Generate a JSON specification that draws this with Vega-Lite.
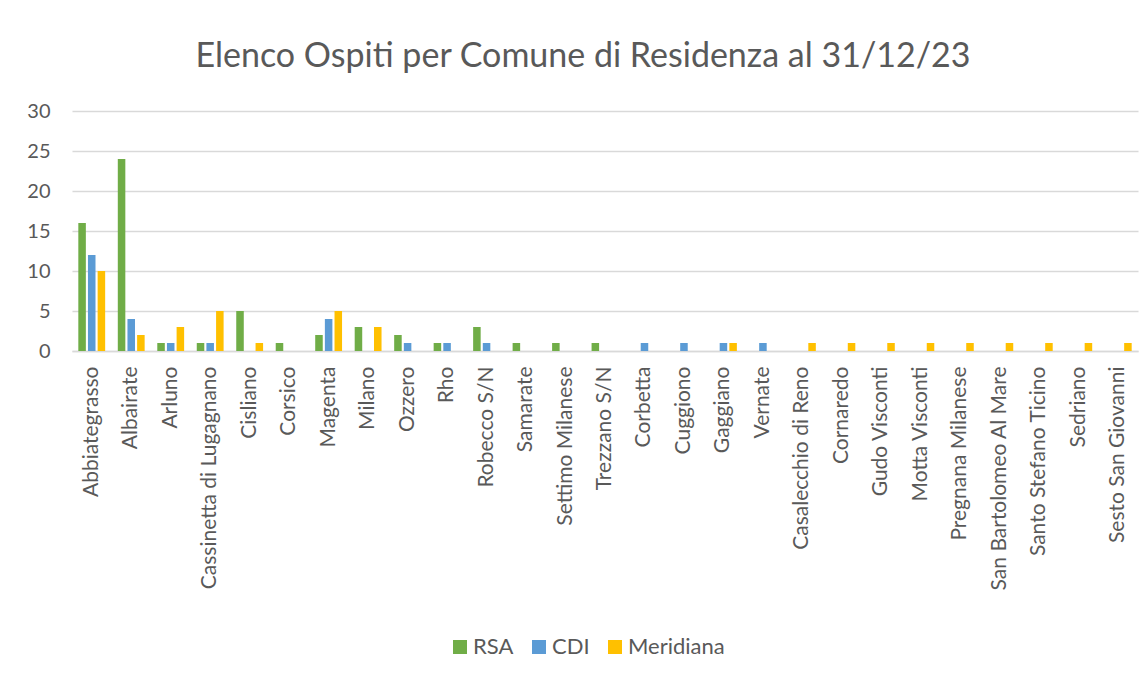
{
  "$schema": "https://vega.github.io/schema/vega-lite/v6.json",
  "width": 1066,
  "height": 240,
  "autosize": {"type": "none"},
  "padding": {"left": 72, "top": 111, "right": 9, "bottom": 326},
  "background": "white",
  "title": {"text": "Elenco Ospiti per Comune di Residenza al 31/12/23", "fontSize": 34, "font": "Lato", "fontWeight": "normal", "color": "#595959", "anchor": "middle", "dx": -22, "offset": 27},
  "data": {"values": [
    {"comune": "Abbiategrasso", "serie": "RSA", "n": 16}, {"comune": "Abbiategrasso", "serie": "CDI", "n": 12}, {"comune": "Abbiategrasso", "serie": "Meridiana", "n": 10},
    {"comune": "Albairate", "serie": "RSA", "n": 24}, {"comune": "Albairate", "serie": "CDI", "n": 4}, {"comune": "Albairate", "serie": "Meridiana", "n": 2},
    {"comune": "Arluno", "serie": "RSA", "n": 1}, {"comune": "Arluno", "serie": "CDI", "n": 1}, {"comune": "Arluno", "serie": "Meridiana", "n": 3},
    {"comune": "Cassinetta di Lugagnano", "serie": "RSA", "n": 1}, {"comune": "Cassinetta di Lugagnano", "serie": "CDI", "n": 1}, {"comune": "Cassinetta di Lugagnano", "serie": "Meridiana", "n": 5},
    {"comune": "Cisliano", "serie": "RSA", "n": 5}, {"comune": "Cisliano", "serie": "CDI", "n": 0}, {"comune": "Cisliano", "serie": "Meridiana", "n": 1},
    {"comune": "Corsico", "serie": "RSA", "n": 1}, {"comune": "Corsico", "serie": "CDI", "n": 0}, {"comune": "Corsico", "serie": "Meridiana", "n": 0},
    {"comune": "Magenta", "serie": "RSA", "n": 2}, {"comune": "Magenta", "serie": "CDI", "n": 4}, {"comune": "Magenta", "serie": "Meridiana", "n": 5},
    {"comune": "Milano", "serie": "RSA", "n": 3}, {"comune": "Milano", "serie": "CDI", "n": 0}, {"comune": "Milano", "serie": "Meridiana", "n": 3},
    {"comune": "Ozzero", "serie": "RSA", "n": 2}, {"comune": "Ozzero", "serie": "CDI", "n": 1}, {"comune": "Ozzero", "serie": "Meridiana", "n": 0},
    {"comune": "Rho", "serie": "RSA", "n": 1}, {"comune": "Rho", "serie": "CDI", "n": 1}, {"comune": "Rho", "serie": "Meridiana", "n": 0},
    {"comune": "Robecco S/N", "serie": "RSA", "n": 3}, {"comune": "Robecco S/N", "serie": "CDI", "n": 1}, {"comune": "Robecco S/N", "serie": "Meridiana", "n": 0},
    {"comune": "Samarate", "serie": "RSA", "n": 1}, {"comune": "Samarate", "serie": "CDI", "n": 0}, {"comune": "Samarate", "serie": "Meridiana", "n": 0},
    {"comune": "Settimo Milanese", "serie": "RSA", "n": 1}, {"comune": "Settimo Milanese", "serie": "CDI", "n": 0}, {"comune": "Settimo Milanese", "serie": "Meridiana", "n": 0},
    {"comune": "Trezzano S/N", "serie": "RSA", "n": 1}, {"comune": "Trezzano S/N", "serie": "CDI", "n": 0}, {"comune": "Trezzano S/N", "serie": "Meridiana", "n": 0},
    {"comune": "Corbetta", "serie": "RSA", "n": 0}, {"comune": "Corbetta", "serie": "CDI", "n": 1}, {"comune": "Corbetta", "serie": "Meridiana", "n": 0},
    {"comune": "Cuggiono", "serie": "RSA", "n": 0}, {"comune": "Cuggiono", "serie": "CDI", "n": 1}, {"comune": "Cuggiono", "serie": "Meridiana", "n": 0},
    {"comune": "Gaggiano", "serie": "RSA", "n": 0}, {"comune": "Gaggiano", "serie": "CDI", "n": 1}, {"comune": "Gaggiano", "serie": "Meridiana", "n": 1},
    {"comune": "Vernate", "serie": "RSA", "n": 0}, {"comune": "Vernate", "serie": "CDI", "n": 1}, {"comune": "Vernate", "serie": "Meridiana", "n": 0},
    {"comune": "Casalecchio di Reno", "serie": "RSA", "n": 0}, {"comune": "Casalecchio di Reno", "serie": "CDI", "n": 0}, {"comune": "Casalecchio di Reno", "serie": "Meridiana", "n": 1},
    {"comune": "Cornaredo", "serie": "RSA", "n": 0}, {"comune": "Cornaredo", "serie": "CDI", "n": 0}, {"comune": "Cornaredo", "serie": "Meridiana", "n": 1},
    {"comune": "Gudo Visconti", "serie": "RSA", "n": 0}, {"comune": "Gudo Visconti", "serie": "CDI", "n": 0}, {"comune": "Gudo Visconti", "serie": "Meridiana", "n": 1},
    {"comune": "Motta Visconti", "serie": "RSA", "n": 0}, {"comune": "Motta Visconti", "serie": "CDI", "n": 0}, {"comune": "Motta Visconti", "serie": "Meridiana", "n": 1},
    {"comune": "Pregnana Milanese", "serie": "RSA", "n": 0}, {"comune": "Pregnana Milanese", "serie": "CDI", "n": 0}, {"comune": "Pregnana Milanese", "serie": "Meridiana", "n": 1},
    {"comune": "San Bartolomeo Al Mare", "serie": "RSA", "n": 0}, {"comune": "San Bartolomeo Al Mare", "serie": "CDI", "n": 0}, {"comune": "San Bartolomeo Al Mare", "serie": "Meridiana", "n": 1},
    {"comune": "Santo Stefano Ticino", "serie": "RSA", "n": 0}, {"comune": "Santo Stefano Ticino", "serie": "CDI", "n": 0}, {"comune": "Santo Stefano Ticino", "serie": "Meridiana", "n": 1},
    {"comune": "Sedriano", "serie": "RSA", "n": 0}, {"comune": "Sedriano", "serie": "CDI", "n": 0}, {"comune": "Sedriano", "serie": "Meridiana", "n": 1},
    {"comune": "Sesto San Giovanni", "serie": "RSA", "n": 0}, {"comune": "Sesto San Giovanni", "serie": "CDI", "n": 0}, {"comune": "Sesto San Giovanni", "serie": "Meridiana", "n": 1}
  ]},
  "mark": {"type": "bar"},
  "encoding": {
    "x": {"field": "comune", "type": "nominal", "sort": null,
      "scale": {"paddingInner": 0.32, "paddingOuter": 0.16},
      "axis": {"title": null, "labelAngle": -90, "labelFont": "Lato", "labelFontSize": 21, "labelColor": "#595959", "labelPadding": 15, "ticks": false, "domainColor": "#d9d9d9", "domainWidth": 1.5, "labelLimit": 320}},
    "xOffset": {"field": "serie", "type": "nominal", "sort": ["RSA", "CDI", "Meridiana"], "scale": {"paddingInner": 0.22}},
    "y": {"field": "n", "type": "quantitative",
      "scale": {"domain": [0, 30]},
      "axis": {"title": null, "values": [0, 5, 10, 15, 20, 25, 30], "labelFont": "Lato", "labelFontSize": 20, "labelColor": "#595959", "labelPadding": 22, "ticks": false, "domain": false, "gridColor": "#d9d9d9", "gridWidth": 1.5}},
    "color": {"field": "serie", "type": "nominal", "sort": ["RSA", "CDI", "Meridiana"],
      "scale": {"domain": ["RSA", "CDI", "Meridiana"], "range": ["#70ad47", "#5b9bd5", "#ffc000"]},
      "legend": {"title": null, "orient": "none", "direction": "horizontal", "legendX": 377, "legendY": 525, "symbolType": "square", "symbolSize": 196, "symbolStrokeWidth": 0, "labelFont": "Lato", "labelFontSize": 22, "labelColor": "#595959", "columnPadding": 14, "labelOffset": 2}}
  },
  "config": {"view": {"stroke": null}}
}
